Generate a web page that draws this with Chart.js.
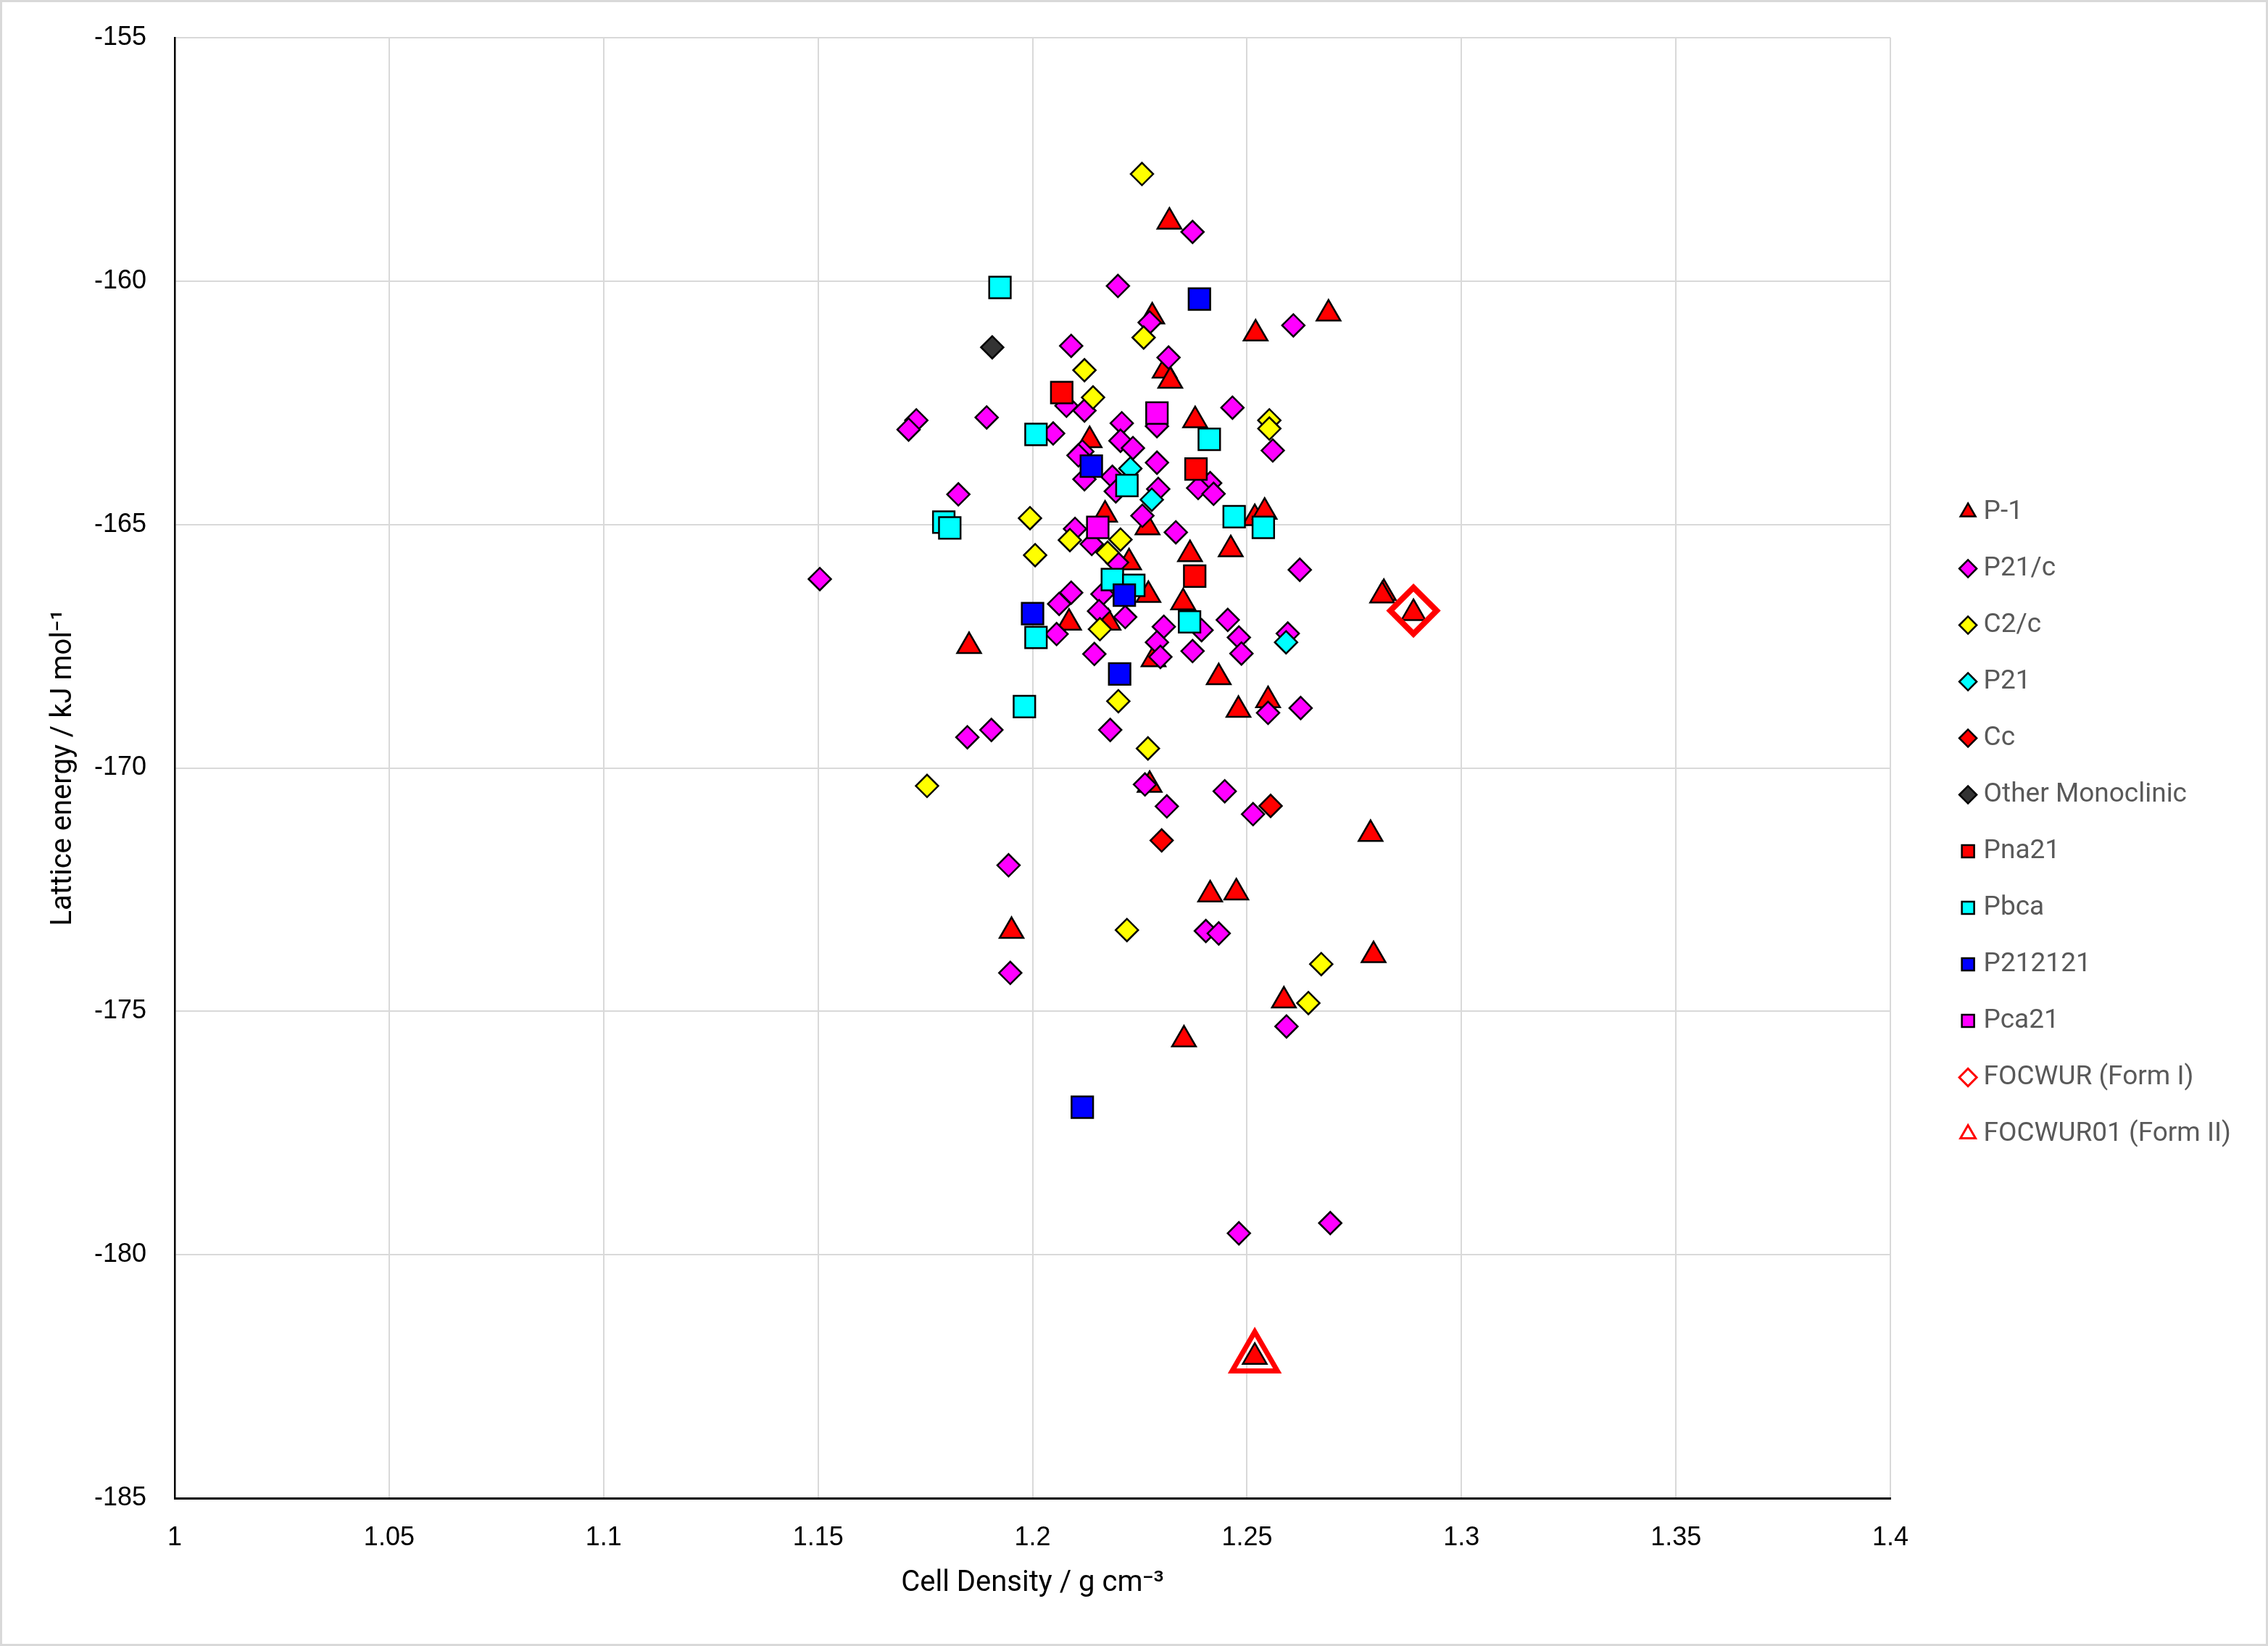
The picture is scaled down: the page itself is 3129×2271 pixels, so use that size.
<!DOCTYPE html>
<html lang="en">
<head>
  <meta charset="utf-8">
  <title>Lattice energy vs cell density</title>
  <script type="text/javascript" src="https://cdn.jsdelivr.net/npm/chart.js"></script>
  <style type="text/css">
    html, body { margin:0; padding:0; background:#fff; }
    #chart { display:block; }
  </style>
</head>
<body>

  <canvas id="chart" width="3129" height="2271"></canvas>

  <script type="text/javascript">
    // [cell density, lattice energy], one list per space group
    const p1 = [[1.2319,-158.78],[1.2279,-160.73],[1.2690,-160.67],[1.2520,-161.08],[1.2308,-161.84],[1.2321,-162.05],
      [1.2379,-162.86],[1.2133,-163.27],[1.2518,-164.87],[1.2541,-164.74],[1.2169,-164.80],[1.2268,-165.06],
      [1.2225,-165.78],[1.2367,-165.61],[1.2462,-165.51],[1.2270,-166.45],[1.2351,-166.60],[1.2085,-167.02],
      [1.2177,-167.02],[1.2282,-167.77],[1.1852,-167.50],[1.2434,-168.14],[1.2480,-168.81],[1.2549,-168.61],
      [1.2273,-170.35],[1.2788,-171.36],[1.2414,-172.60],[1.2475,-172.56],[1.1951,-173.35],[1.2795,-173.85],
      [1.2586,-174.78],[1.2353,-175.58],[1.2819,-166.41],[1.2815,-166.46],[1.2888,-166.82],[1.2518,-182.10]];
    const p21c = [[1.2373,-158.99],[1.2199,-160.10],[1.2273,-160.85],[1.2608,-160.91],[1.2090,-161.33],[1.2317,-161.57],
      [1.1893,-162.80],[1.2079,-162.56],[1.2121,-162.66],[1.2466,-162.60],[1.1729,-162.86],[1.1711,-163.05],
      [1.2048,-163.13],[1.2208,-162.92],[1.2290,-162.98],[1.2205,-163.28],[1.2234,-163.43],[1.2560,-163.48],
      [1.2116,-163.50],[1.2107,-163.58],[1.2290,-163.73],[1.2121,-164.07],[1.2186,-164.02],[1.2194,-164.32],
      [1.2293,-164.27],[1.2414,-164.15],[1.2386,-164.25],[1.2422,-164.37],[1.1827,-164.38],[1.2256,-164.82],
      [1.2334,-165.16],[1.2099,-165.09],[1.2138,-165.40],[1.2197,-165.78],[1.1504,-166.12],[1.2623,-165.93],
      [1.2163,-166.43],[1.2090,-166.40],[1.2062,-166.63],[1.2155,-166.78],[1.2216,-166.90],[1.2056,-167.25],
      [1.2306,-167.10],[1.2394,-167.17],[1.2455,-166.96],[1.2481,-167.32],[1.2290,-167.42],[1.2298,-167.72],
      [1.2373,-167.60],[1.2487,-167.65],[1.2595,-167.24],[1.2144,-167.66],[1.2549,-168.87],[1.2625,-168.77],
      [1.2181,-169.22],[1.1904,-169.22],[1.1848,-169.37],[1.2262,-170.34],[1.2313,-170.79],[1.2448,-170.48],
      [1.2514,-170.95],[1.1944,-172.00],[1.2404,-173.35],[1.2434,-173.40],[1.1948,-174.21],[1.2592,-175.31],
      [1.2481,-179.56],[1.2694,-179.35]];
    const c2c = [[1.2255,-157.80],[1.2259,-161.16],[1.2121,-161.83],[1.2141,-162.39],[1.2552,-162.86],[1.2552,-163.03],
      [1.1994,-164.87],[1.2087,-165.32],[1.2205,-165.31],[1.2006,-165.63],[1.2175,-165.58],[1.2157,-167.15],
      [1.2200,-168.63],[1.2269,-169.60],[1.1754,-170.37],[1.2220,-173.33],[1.2673,-174.03],[1.2643,-174.83]];
    const p21 = [[1.2228,-163.85],[1.2278,-164.49],[1.2591,-167.42]];
    const cc = [[1.2301,-171.49],[1.2555,-170.78]];
    const otherMono = [[1.1906,-161.36]];
    const pna21 = [[1.2068,-162.29],[1.2381,-163.86],[1.2378,-166.06]];
    const pbca = [[1.1924,-160.13],[1.2008,-163.15],[1.2412,-163.25],[1.2220,-164.20],[1.1793,-164.95],[1.1807,-165.07],
      [1.2470,-164.84],[1.2538,-165.06],[1.2186,-166.13],[1.2236,-166.25],[1.2008,-167.32],[1.2366,-167.00],[1.1981,-168.74]];
    const p212121 = [[1.2389,-160.37],[1.2137,-163.80],[1.2214,-166.45],[1.2000,-166.83],[1.2203,-168.07],[1.2116,-176.97]];
    const pca21 = [[1.2290,-162.71],[1.2152,-165.06]];
    const formI = [[1.2888,-166.77]];
    const formII = [[1.2518,-182.12]];

    const xTicks = { min: 1, max: 1.4, step: 0.05 };
    const yTicks = { min: -185, max: -155, step: 5 };

    const toPoints = (list) => list.map(([x, y]) => ({ x, y }));

    const marker = (label, data, pointStyle, color, radius) => ({
      label,
      data: toPoints(data),
      pointStyle,
      backgroundColor: color,
      borderColor: '#000',
      borderWidth: 2.5,
      pointRadius: radius,
      pointHoverRadius: radius
    });

    const datasets = [
      marker('P-1', p1, 'triangle', '#ff0000', 19),
      marker('P21/c', p21c, 'rectRot', '#ff00ff', 15.5),
      marker('C2/c', c2c, 'rectRot', '#ffff00', 15.5),
      marker('P21', p21, 'rectRot', '#00ffff', 15.5),
      marker('Cc', cc, 'rectRot', '#ff0000', 15.5),
      marker('Other Monoclinic', otherMono, 'rectRot', '#333333', 15.5),
      marker('Pna21', pna21, 'rect', '#ff0000', 21),
      marker('Pbca', pbca, 'rect', '#00ffff', 21),
      marker('P212121', p212121, 'rect', '#0000ff', 21),
      marker('Pca21', pca21, 'rect', '#ff00ff', 21),
      { label: 'FOCWUR (Form I)', data: toPoints(formI), pointStyle: 'rectRot', backgroundColor: 'rgba(0,0,0,0)',
        borderColor: '#ff0000', borderWidth: 8, pointRadius: 32, pointHoverRadius: 32 },
      { label: 'FOCWUR01 (Form II)', data: toPoints(formII), pointStyle: 'triangle', backgroundColor: 'rgba(0,0,0,0)',
        borderColor: '#ff0000', borderWidth: 7, pointRadius: 36, pointHoverRadius: 36 }
    ];
    // later series sit on top, as in the original
    datasets.forEach((d, i) => { d.order = datasets.length - i; });

    const frame = {
      id: 'frame',
      beforeDraw(chart) {
        const { ctx, width, height } = chart;
        ctx.save();
        ctx.fillStyle = '#fff';
        ctx.fillRect(0, 0, width, height);
        ctx.strokeStyle = '#d9d9d9';
        ctx.lineWidth = 3;
        ctx.strokeRect(1.5, 1.5, width - 3, height - 3);
        ctx.restore();
      }
    };

    const tickFont = { family: "'Liberation Sans', Arial, sans-serif", size: 36 };
    const titleFont = { family: "Roboto, 'Noto Sans', sans-serif", size: 40 };
    const spacer = (size) => ({
      type: 'linear',
      grid: { display: false, drawTicks: false },
      border: { display: false },
      ticks: { display: false },
      afterFit: s => { if (s.isHorizontal()) s.height = size; else s.width = size; }
    });

    new Chart(document.getElementById('chart'), {
      type: 'scatter',
      data: { datasets },
      plugins: [frame],
      options: {
        responsive: false,
        animation: false,
        layout: { padding: { top: 0, right: 41, bottom: 0, left: 0 } },
        plugins: {
          tooltip: { enabled: false },
          legend: {
            position: 'right',
            align: 'center',
            labels: {
              usePointStyle: true,
              boxWidth: 6,
              boxHeight: 17,
              padding: 41,
              color: '#595959',
              font: { family: "Roboto, 'Noto Sans', sans-serif", size: 37 },
              sort: (a, b) => a.datasetIndex - b.datasetIndex,
              generateLabels: (chart) => Chart.defaults.plugins.legend.labels.generateLabels(chart)
                .map(item => { item.lineWidth = Math.min(item.lineWidth, 3); return item; })
            }
          }
        },
        scales: {
          x: {
            type: 'linear',
            min: xTicks.min,
            max: xTicks.max,
            ticks: { stepSize: xTicks.step, padding: 33, color: '#000', font: tickFont,
              callback: v => String(Math.round(v * 100) / 100) },
            grid: { color: '#d9d9d9', lineWidth: 2, drawTicks: false },
            border: { color: '#000', width: 3 },
            title: { display: true, text: 'Cell Density / g cm⁻³', color: '#000', font: titleFont,
              padding: { top: 0, bottom: 62 } },
            afterFit: s => { s.height = 204; }
          },
          y: {
            type: 'linear',
            min: yTicks.min,
            max: yTicks.max,
            ticks: { stepSize: yTicks.step, padding: 39, color: '#000', font: tickFont },
            grid: { color: '#d9d9d9', lineWidth: 2, drawTicks: false },
            border: { color: '#000', width: 2.5 },
            title: { display: true, text: 'Lattice energy / kJ mol⁻¹', color: '#000', font: titleFont,
              padding: { top: 64, bottom: 0 } },
            afterFit: s => { s.width = 241; s.paddingTop = 0; s.paddingBottom = 0; }
          },
          topGap: Object.assign(spacer(52), { position: 'top', axis: 'x' }),
          rightGap: Object.assign(spacer(63), { position: 'right', axis: 'y' })
        }
      }
    });
  </script>

</body>
</html>
